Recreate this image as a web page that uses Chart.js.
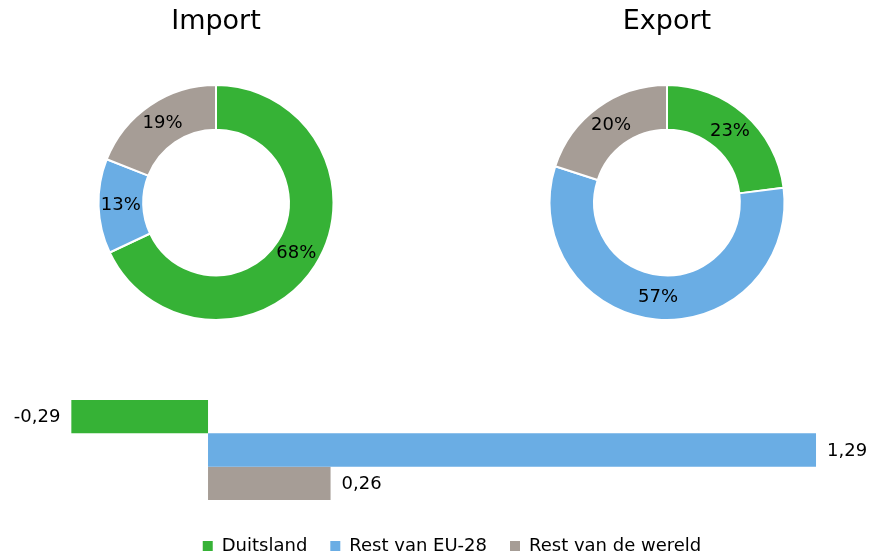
<!DOCTYPE html>
<html>
<head>
<meta charset="utf-8">
<script src="https://cdn.jsdelivr.net/npm/chart.js@4.4.1/dist/chart.umd.min.js"></script>
<style>
  html, body { margin: 0; padding: 0; background: #fff; overflow: hidden; }
  body { width: 870px; height: 558px; position: relative; }
  .box { position: absolute; }
</style>
</head>
<body>
<div class="box" style="left:16px;top:0;width:400px;height:330px"><canvas id="importChart"></canvas></div>
<div class="box" style="left:467px;top:0;width:400px;height:330px"><canvas id="exportChart"></canvas></div>
<div class="box" style="left:0;top:370px;width:870px;height:195px"><canvas id="saldoChart"></canvas></div>
<script>
// data
const regions = ['Duitsland', 'Rest van EU-28', 'Rest van de wereld'];
const importShares = [68, 13, 19];
const exportShares = [23, 57, 20];
const saldo = [-0.29, 1.29, 0.26];

const colors = ['#36b236', '#6aade4', '#a69d96'];

Chart.defaults.font.family = '"DejaVu Sans", Verdana, sans-serif';
Chart.defaults.color = '#000';

// percentage in the middle of every ring piece
const donutLabels = {
  id: 'donutLabels',
  afterDatasetsDraw(chart) {
    const ctx = chart.ctx;
    const meta = chart.getDatasetMeta(0);
    ctx.save();
    ctx.font = '18px "DejaVu Sans"';
    ctx.fillStyle = '#000';
    ctx.textAlign = 'center';
    ctx.textBaseline = 'middle';
    meta.data.forEach((arc, i) => {
      const p = arc.tooltipPosition(true);
      ctx.fillText(chart.data.datasets[0].data[i] + '%', p.x, p.y);
    });
    ctx.restore();
  }
};

// value next to the end of each bar, dutch comma
const barLabels = {
  id: 'barLabels',
  afterDatasetsDraw(chart) {
    const ctx = chart.ctx;
    ctx.save();
    ctx.font = '18px "DejaVu Sans"';
    ctx.fillStyle = '#000';
    ctx.textBaseline = 'middle';
    chart.data.datasets.forEach((ds, i) => {
      const bar = chart.getDatasetMeta(i).data[0];
      const v = ds.data[0];
      const txt = v.toFixed(2).replace('.', ',');
      if (v < 0) {
        ctx.textAlign = 'right';
        ctx.fillText(txt, bar.x - 11, bar.y + 1);
      } else {
        ctx.textAlign = 'left';
        ctx.fillText(txt, bar.x + 11, bar.y + 1);
      }
    });
    ctx.restore();
  }
};

function makeDonut(id, title, values) {
  return new Chart(document.getElementById(id), {
    type: 'doughnut',
    data: {
      labels: regions,
      datasets: [{
        data: values,
        backgroundColor: colors,
        borderColor: '#fff',
        borderWidth: 2
      }]
    },
    options: {
      responsive: true,
      maintainAspectRatio: false,
      animation: false,
      cutout: '62%',
      layout: { padding: { top: 0, bottom: 9 } },
      plugins: {
        legend: { display: false },
        tooltip: { enabled: false },
        title: {
          display: true,
          text: title,
          color: '#000',
          font: { size: 27, weight: 'normal' },
          padding: { top: 6, bottom: 45.6 }
        }
      }
    },
    plugins: [donutLabels]
  });
}

makeDonut('importChart', 'Import', importShares);
makeDonut('exportChart', 'Export', exportShares);

new Chart(document.getElementById('saldoChart'), {
  type: 'bar',
  data: {
    labels: [''],
    datasets: regions.map((name, i) => ({
      label: name,
      data: [saldo[i]],
      backgroundColor: colors[i],
      borderWidth: 0,
      categoryPercentage: 100 / 128,
      barPercentage: 1
    }))
  },
  options: {
    indexAxis: 'y',
    responsive: true,
    maintainAspectRatio: false,
    animation: false,
    layout: { padding: { left: 40, right: 6, top: 16, bottom: 0 } },
    scales: {
      x: { display: false, min: -0.3565, max: 1.3918 },
      y: { display: false }
    },
    plugins: {
      tooltip: { enabled: false },
      legend: {
        position: 'bottom',
        labels: {
          boxWidth: 10,
          boxHeight: 10,
          padding: 23,
          color: '#000',
          font: { size: 18 }
        }
      }
    }
  },
  plugins: [barLabels]
});
</script>
</body>
</html>
